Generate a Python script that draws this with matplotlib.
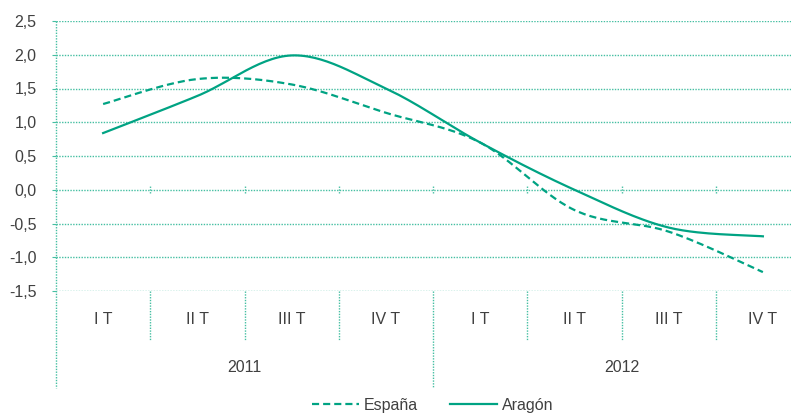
import numpy as np
import matplotlib
matplotlib.use("Agg")
import matplotlib.pyplot as plt
from matplotlib.lines import Line2D
from matplotlib.transforms import blended_transform_factory

plt.rcParams['font.family'] = ['Liberation Sans', 'DejaVu Sans']
plt.rcParams['axes.unicode_minus'] = False

# ---- data ----
quarters = ['I T', 'II T', 'III T', 'IV T', 'I T', 'II T', 'III T', 'IV T']
years = ['2011', '2012']
espana = [1.27, 1.64, 1.56, 1.14, 0.70, -0.30, -0.62, -1.22]
aragon = [0.84, 1.39, 1.99, 1.50, 0.70, 0.00, -0.56, -0.69]
yticks = [-1.5, -1.0, -0.5, 0.0, 0.5, 1.0, 1.5, 2.0, 2.5]

GREEN = '#00A383'
GRID = '#45BFA2'
TXT = '#404040'
FS = 11.5


def smooth(x, y, n=30):
    # Excel-style smoothed line (Catmull-Rom bezier through the points)
    x = np.asarray(x, float)
    y = np.asarray(y, float)
    px = np.concatenate([[x[0]], x, [x[-1]]])
    py = np.concatenate([[y[0]], y, [y[-1]]])
    xs, ys = [], []
    t = np.linspace(0, 1, n)
    for i in range(1, len(px) - 2):
        p0 = np.array([px[i], py[i]])
        p3 = np.array([px[i + 1], py[i + 1]])
        p1 = p0 + (np.array([px[i + 1], py[i + 1]]) - np.array([px[i - 1], py[i - 1]])) / 6
        p2 = p3 - (np.array([px[i + 2], py[i + 2]]) - np.array([px[i], py[i]])) / 6
        b = ((1 - t) ** 3)[:, None] * p0 + (3 * (1 - t) ** 2 * t)[:, None] * p1 \
            + (3 * (1 - t) * t ** 2)[:, None] * p2 + (t ** 3)[:, None] * p3
        xs.extend(b[:, 0])
        ys.extend(b[:, 1])
    return np.array(xs), np.array(ys)


W, H = 791, 413
fig = plt.figure(figsize=(W / 100, H / 100), dpi=100)
left, right, top, bottom = 56, 810, 21, 291
ax = fig.add_axes([left / W, 1 - bottom / H, (right - left) / W, (bottom - top) / H])

x = np.arange(len(quarters)) + 0.5
sx, sy = smooth(x, espana)
ax.plot(sx, sy, color=GREEN, lw=1.6, ls=(0, (3.2, 1.8)), label='España')
sx, sy = smooth(x, aragon)
ax.plot(sx, sy, color=GREEN, lw=1.6, label='Aragón')

ax.set_xlim(0, len(quarters))
ax.set_ylim(-1.5, 2.5)
ax.set_yticks(yticks)
ax.set_yticklabels([f'{v:.1f}'.replace('.', ',') for v in yticks], fontsize=FS, color=TXT)
ax.tick_params(axis='y', length=3, color=GRID, pad=11)
ax.set_xticks([])
for v in yticks:
    ax.axhline(v, color=GRID, lw=1, ls=(0, (1, 1)), zorder=0)
for s in ax.spines.values():
    s.set_visible(False)

# small ticks on the zero line at category boundaries
for i in range(1, len(quarters)):
    ax.plot([i, i], [-0.05, 0.05], color=GRID, lw=1, ls=(0, (1, 1)))

# category axis below the plot
tr = blended_transform_factory(ax.transData, ax.transAxes)
ax.plot([0, 0], [1, -0.36], color=GRID, lw=1, ls=(0, (1, 1)), transform=tr, clip_on=False)
for i in range(1, len(quarters)):
    low = -0.36 if i % 4 == 0 else -0.18
    ax.plot([i, i], [0, low], color=GRID, lw=1, ls=(0, (1, 1)), transform=tr, clip_on=False)
for xi, q in zip(x, quarters):
    ax.text(xi, -0.107, q, transform=tr, ha='center', va='center', fontsize=FS, color=TXT)
for k, yr in enumerate(years):
    ax.text(4 * k + 2, -0.285, yr, transform=tr, ha='center', va='center', fontsize=FS, color=TXT)

handles = [Line2D([], [], color=GREEN, lw=1.6, ls=(0, (3.2, 1.8))),
           Line2D([], [], color=GREEN, lw=1.6)]
leg = ax.legend(handles, ['España', 'Aragón'], loc='center', bbox_to_anchor=(0.5, -0.423),
                ncol=2, frameon=False, fontsize=FS, handlelength=2.9, handletextpad=0.35,
                columnspacing=2.0)
for t in leg.get_texts():
    t.set_color(TXT)

fig.savefig('out.png', dpi=100)
